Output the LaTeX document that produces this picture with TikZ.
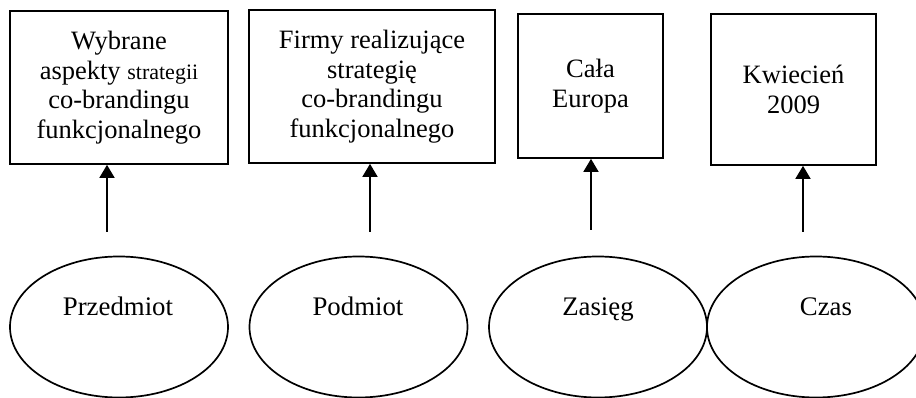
\documentclass[tikz,border=0pt]{standalone}
\usepackage{fontspec}
\setmainfont{Liberation Serif}
\usetikzlibrary{arrows.meta,shapes.geometric}
\begin{document}
\begin{tikzpicture}[x=1pt,y=-1pt,
  box/.style={draw,line width=1.7pt,rectangle,inner sep=0pt,align=center,
    font=\fontsize{26.5}{29.5}\selectfont},
  ell/.style={draw,line width=1.7pt,ellipse,inner sep=0pt,minimum width=218pt,minimum height=141pt},
  etext/.style={font=\fontsize{26.8}{30}\selectfont,inner sep=0pt,anchor=base},
  arr/.style={line width=1.7pt,-{Triangle[width=15pt,length=13pt]}}]
\useasboundingbox (0,0) rectangle (916,398);
\node[box,minimum width=218pt,minimum height=153pt] (b1) at (119,87.5)
  {Wybrane\\aspekty {\fontsize{22}{29.5}\selectfont strategii}\\co-brandingu\\funkcjonalnego};
\node[box,minimum width=246pt,minimum height=153pt] (b2) at (372,86.5)
  {Firmy realizujące\\strategię\\co-brandingu\\funkcjonalnego};
\node[box,minimum width=145pt,minimum height=144pt] (b3) at (590.5,86)
  {Cała\\Europa};
\node[box,minimum width=165pt,minimum height=151pt] (b4) at (793.5,89.5)
  {Kwiecień\\2009};
\node[ell] (e1) at (119,327) {};
\node[ell] (e2) at (358.5,327) {};
\node[ell] (e3) at (598,327) {};
\node[ell] (e4) at (816,327) {};
\node[etext] (t1) at (118,315) {Przedmiot};
\node[etext] (t2) at (358,315) {Podmiot};
\node[etext] (t3) at (598,315) {Zasięg};
\node[etext] (t4) at (826,315) {Czas};
\coordinate (a1) at (107,232);
\coordinate (a2) at (370,232);
\coordinate (a3) at (591,230);
\coordinate (a4) at (803,232);
\draw[arr] (a1) -- (a1 |- b1.south);
\draw[arr] (a2) -- (a2 |- b2.south);
\draw[arr] (a3) -- (a3 |- b3.south);
\draw[arr] (a4) -- (a4 |- b4.south);
\end{tikzpicture}
\end{document}
